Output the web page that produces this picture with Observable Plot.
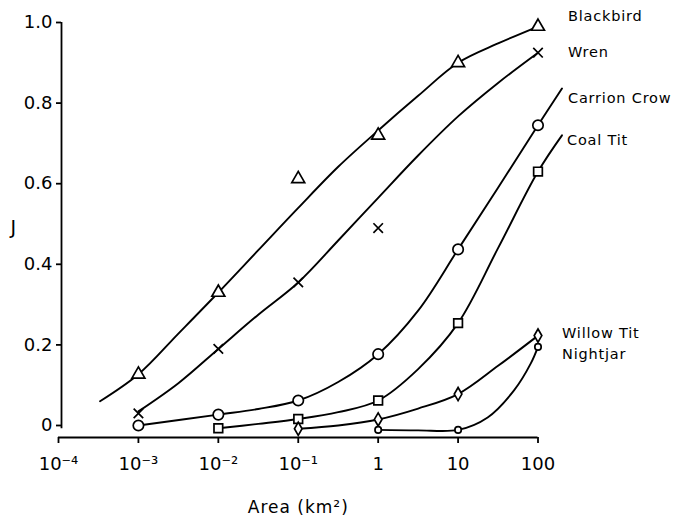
<!DOCTYPE html>
<html>
<head>
<meta charset="utf-8">
<script src="https://cdn.jsdelivr.net/npm/d3@7"></script>
<script src="https://cdn.jsdelivr.net/npm/@observablehq/plot@0.6"></script>
<style>
  body { margin: 0; background: #fff; }
  #chart svg { display: block; }
  .species-label text { letter-spacing: 0.8px; }
  .axis-title text { letter-spacing: 1px; }
</style>
</head>
<body>
<div id="chart"></div>
<script>
// Axis ticks
const areaTicks = [1e-4, 1e-3, 1e-2, 1e-1, 1, 10, 100];
const areaTickLabels = ["10⁻⁴", "10⁻³", "10⁻²", "10⁻¹", "1", "10", "100"];
const jTicks = [0, 0.2, 0.4, 0.6, 0.8, 1.0];
const jTickLabels = ["0", "0.2", "0.4", "0.6", "0.8", "1.0"];

const species = ["Blackbird", "Wren", "Carrion Crow", "Coal Tit", "Willow Tit", "Nightjar"];

// Observed J at each census area (km²)
const blackbirdArea = [1e-3, 1e-2, 1e-1, 1, 10, 100];
const blackbirdJ    = [0.127, 0.33, 0.612, 0.72, 0.90, 0.99];
const wrenArea      = [1e-3, 1e-2, 1e-1, 1, 100];
const wrenJ         = [0.03, 0.19, 0.355, 0.49, 0.925];
const crowArea      = [1e-3, 1e-2, 1e-1, 1, 10, 100];
const crowJ         = [0.0, 0.027, 0.062, 0.177, 0.437, 0.745];
const coalTitArea   = [1e-2, 1e-1, 1, 10, 100];
const coalTitJ      = [-0.007, 0.016, 0.062, 0.254, 0.63];
const willowTitArea = [1e-1, 1, 10, 100];
const willowTitJ    = [-0.008, 0.015, 0.078, 0.223];
const nightjarArea  = [1, 10, 100];
const nightjarJ     = [-0.011, -0.011, 0.195];

// Fitted curves, given as log10(area) and J
const blackbirdCurveLog = [-3.48, -3, -2.5, -2, -1.5, -1, -0.5, 0, 0.5, 1, 1.5, 2];
const blackbirdCurveJ   = [0.06, 0.127, 0.228, 0.33, 0.435, 0.54, 0.642, 0.732, 0.818, 0.90, 0.948, 0.99];
const wrenCurveLog      = [-3, -2.5, -2, -1.5, -1, -0.5, 0, 0.5, 1, 1.5, 2];
const wrenCurveJ        = [0.035, 0.105, 0.19, 0.275, 0.355, 0.459, 0.565, 0.67, 0.767, 0.85, 0.925];
const crowCurveLog      = [-3, -2, -1.5, -1, -0.5, 0, 0.5, 1, 1.5, 2, 2.3];
const crowCurveJ        = [0.0, 0.027, 0.041, 0.062, 0.108, 0.177, 0.285, 0.437, 0.59, 0.745, 0.836];
const coalTitCurveLog   = [-2, -1.5, -1, -0.5, 0, 0.5, 1, 1.5, 2, 2.3];
const coalTitCurveJ     = [-0.007, 0.004, 0.016, 0.033, 0.062, 0.14, 0.254, 0.44, 0.63, 0.72];
const willowTitCurveLog = [-1, -0.5, 0, 0.5, 1, 1.5, 2];
const willowTitCurveJ   = [-0.008, 0.0, 0.015, 0.042, 0.078, 0.148, 0.223];
const nightjarCurveLog  = [0, 0.5, 1, 1.37, 1.7, 1.91, 2];
const nightjarCurveJ    = [-0.011, -0.012, -0.011, 0.02, 0.087, 0.154, 0.195];

// Assemble per-species tables
const observed = [
  [blackbirdArea, blackbirdJ], [wrenArea, wrenJ], [crowArea, crowJ],
  [coalTitArea, coalTitJ], [willowTitArea, willowTitJ], [nightjarArea, nightjarJ]
];
const curves = [
  [blackbirdCurveLog, blackbirdCurveJ], [wrenCurveLog, wrenCurveJ], [crowCurveLog, crowCurveJ],
  [coalTitCurveLog, coalTitCurveJ], [willowTitCurveLog, willowTitCurveJ], [nightjarCurveLog, nightjarCurveJ]
];
const points = species.flatMap((s, k) =>
  observed[k][0].map((a, i) => ({species: s, area: a, J: observed[k][1][i]})));
const lines = species.flatMap((s, k) =>
  curves[k][0].map((l, i) => ({species: s, area: Math.pow(10, l), J: curves[k][1][i]})));
const labels = species.map((s, k) => {
  const n = curves[k][0].length - 1;
  return {species: s, area: Math.pow(10, curves[k][0][n]), J: curves[k][1][n]};
});

// Marker look per species
const markerStyle = {
  "Blackbird":    {symbol: "triangle", r: 4.8},
  "Wren":         {symbol: "times",    r: 4.4},
  "Carrion Crow": {symbol: "circle",   r: 5.2},
  "Coal Tit":     {symbol: "square",   r: 4.9},
  "Willow Tit":   {symbol: "diamond",  r: 4.0},
  "Nightjar":     {symbol: "circle",   r: 3.2}
};
// Label offsets (px) from each curve's end
const labelOffset = {
  "Blackbird":    [30, -10],
  "Wren":         [30, 0],
  "Carrion Crow": [6, 10],
  "Coal Tit":     [5, 5],
  "Willow Tit":   [24, -2],
  "Nightjar":     [24, 7]
};

const yMin = -0.0298;
const ink = "#000";

const plot = Plot.plot({
  width: 679,
  height: 520,
  marginLeft: 58,
  marginRight: 141.5,
  marginTop: 22,
  marginBottom: 83,
  style: {fontFamily: "DejaVu Sans, sans-serif", fontSize: "18px", color: ink, background: "#fff"},
  x: {type: "log", domain: [1e-4, 100], axis: null},
  y: {domain: [yMin, 1], axis: null},
  marks: [
    // Axes
    Plot.ruleY([yMin], {x1: 1e-4, x2: 100, stroke: ink, strokeWidth: 1.8}),
    Plot.ruleX([1e-4], {y1: -0.008, y2: 1, dx: 3, stroke: ink, strokeWidth: 1.8}),
    Plot.axisX({
      ticks: areaTicks,
      tickFormat: d => areaTickLabels[areaTicks.indexOf(d)],
      tickSize: 6, tickPadding: 14, strokeWidth: 1.8, fontSize: 18, label: null
    }),
    Plot.axisY({
      ticks: jTicks,
      tickFormat: d => jTickLabels[jTicks.indexOf(d)],
      tickSize: 5, tickPadding: 4, strokeWidth: 1.8, fontSize: 18, dx: 3, label: null
    }),
    Plot.text(["Area (km²)"], {frameAnchor: "bottom", lineAnchor: "middle", text: d => d, dy: 70, fontSize: 17, className: "axis-title"}),
    Plot.text(["J"], {frameAnchor: "left", text: d => d, dx: -48, dy: -2, fontSize: 19}),

    // Fitted curves
    Plot.line(lines, {x: "area", y: "J", z: "species", curve: "catmull-rom", stroke: ink, strokeWidth: 1.9}),

    // Observed values
    ...species.map(s => Plot.dot(points.filter(d => d.species === s), {
      x: "area", y: "J", symbol: markerStyle[s].symbol, r: markerStyle[s].r,
      stroke: ink, fill: "#fff", strokeWidth: 1.7
    })),

    // Species names at the curve ends
    ...labels.map(d => Plot.text([d], {
      x: "area", y: "J", text: "species", textAnchor: "start",
      dx: labelOffset[d.species][0], dy: labelOffset[d.species][1],
      fontSize: 14.5, className: "species-label"
    }))
  ]
});

document.getElementById("chart").appendChild(plot);
</script>
</body>
</html>
